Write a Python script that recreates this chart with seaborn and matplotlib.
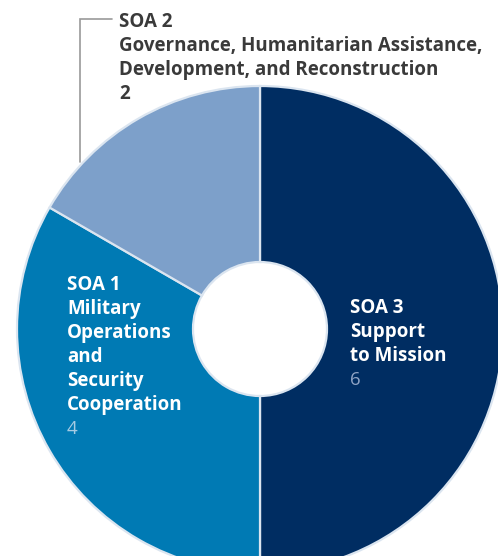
import matplotlib
matplotlib.use("Agg")
import matplotlib.pyplot as plt
import seaborn as sns

sns.set_theme(style="white")
plt.rcParams['font.family'] = ['Open Sans', 'DejaVu Sans']

# ---- data ----
categories = ["SOA 3", "SOA 1", "SOA 2"]
descriptions = [
    ["Support", "to Mission"],
    ["Military", "Operations", "and", "Security", "Cooperation"],
    ["Governance, Humanitarian Assistance,", "Development, and Reconstruction"],
]
values = [6, 4, 2]
colors = ["#002d62", "#007ab4", "#7da0ca"]

W, H = 498, 556
fig = plt.figure(figsize=(W / 100, H / 100), dpi=100)
ax = fig.add_axes([0, 0, 1, 1])

cx, cy, R = 260, 329, 243
hole = 67
ax.pie(values, colors=colors, startangle=90, counterclock=False,
       center=(cx, H - cy), radius=R,
       wedgeprops=dict(width=R - hole, edgecolor="#dbe5f0", linewidth=1.6))
ax.set_xlim(0, W)
ax.set_ylim(0, H)
ax.set_aspect("equal")
ax.axis("off")

fs = 13.5
step = 24

def block(x, y0, lines, value, tcolor, vcolor, vweight):
    for i, ln in enumerate(lines):
        ax.text(x, H - (y0 + i * step), ln, fontsize=fs, fontweight="bold",
                color=tcolor, ha="left", va="baseline")
    ax.text(x, H - (y0 + len(lines) * step), str(value), fontsize=fs,
            fontweight=vweight, color=vcolor, ha="left", va="baseline")

# SOA 3
block(350, 313, [categories[0]] + descriptions[0], values[0], "white", "#8fa3c4", "normal")
# SOA 1
block(67, 290, [categories[1]] + descriptions[1], values[1], "white", "#a6cbe3", "normal")
# SOA 2 (outside)
block(119, 27, [categories[2]] + descriptions[2], values[2], "#3a3a3a", "#3a3a3a", "bold")

# leader line for SOA 2
ax.plot([112, 80, 80], [H - 19, H - 19, H - 162], color="#9a9a9a", lw=1.2,
        solid_joinstyle="miter")

fig.savefig("out.png", dpi=100)
